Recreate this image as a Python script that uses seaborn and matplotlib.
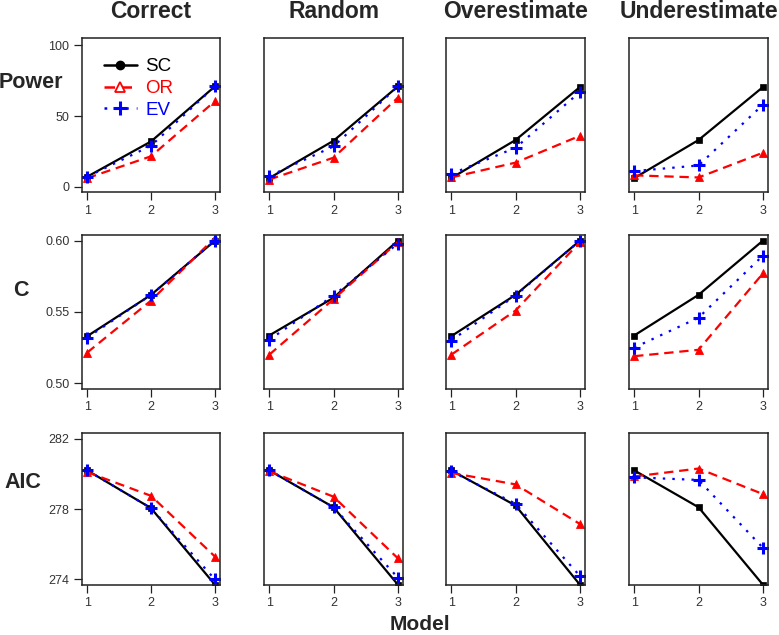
import matplotlib
matplotlib.use("Agg")
import matplotlib.pyplot as plt
from matplotlib.lines import Line2D
import seaborn as sns
import pandas as pd

sns.set_style("white")
plt.rcParams['font.family'] = ['Liberation Sans', 'DejaVu Sans']

models = [1, 2, 3]
scenarios = ["Correct", "Random", "Overestimate", "Underestimate"]
metrics = ["Power", "C", "AIC"]
methods = ["SC", "OR", "EV"]

# values per scenario (Correct, Random, Overestimate, Underestimate), per model 1..3
power_sc = [[7, 32, 71], [6, 32.5, 71], [6, 33, 70.5], [6, 33, 70.5]]
power_or = [[6, 21.5, 60.5], [5, 20.5, 63], [6.5, 17, 36], [8, 6.5, 24]]
power_ev = [[7, 29, 71], [7.5, 28.5, 71], [9, 27.5, 67], [11, 15, 58]]

c_sc = [[0.533, 0.562, 0.600], [0.5335, 0.560, 0.600], [0.533, 0.562, 0.600], [0.5335, 0.562, 0.600]]
c_or = [[0.5215, 0.558, 0.602], [0.520, 0.559, 0.599], [0.520, 0.551, 0.599], [0.519, 0.5235, 0.577]]
c_ev = [[0.532, 0.562, 0.600], [0.5305, 0.5615, 0.598], [0.530, 0.5615, 0.600], [0.525, 0.546, 0.5895]]

aic_sc = [[280.2, 278.05, 273.7], [280.2, 278.1, 273.7], [280.2, 278.2, 273.7], [280.2, 278.1, 273.7]]
aic_or = [[280.1, 278.75, 275.3], [280.15, 278.7, 275.2], [280.05, 279.4, 277.15], [279.85, 280.3, 278.85]]
aic_ev = [[280.2, 278.05, 274.0], [280.2, 278.1, 274.1], [280.15, 278.3, 274.2], [279.8, 279.65, 275.8]]

y_ticks = {"Power": [0, 50, 100], "C": [0.50, 0.55, 0.60], "AIC": [274, 278, 282]}
y_ticklabels = {"Power": ["0", "50", "100"], "C": ["0.50", "0.55", "0.60"], "AIC": ["274", "278", "282"]}
y_lims = {"Power": (-3.8, 105.3), "C": (0.496, 0.604), "AIC": (273.68, 282.32)}

data = {
    "Power": {"SC": power_sc, "OR": power_or, "EV": power_ev},
    "C": {"SC": c_sc, "OR": c_or, "EV": c_ev},
    "AIC": {"SC": aic_sc, "OR": aic_or, "EV": aic_ev},
}

RED = "#ff0000"
BLUE = "#0000ff"
styles = {
    "SC": dict(color="black", linestyle="-", marker="s", markersize=3.8,
               markeredgewidth=0.5, markeredgecolor="black", markerfacecolor="black"),
    "OR": dict(color=RED, linestyle=(0, (4.2, 2.6)), marker="^", markersize=6,
               markeredgewidth=0.6, markeredgecolor=RED, markerfacecolor=RED),
    "EV": dict(color=BLUE, linestyle=(0, (1.1, 3.2)), marker="+", markersize=8,
               markeredgewidth=2.2, markeredgecolor=BLUE),
}

W, H = 779, 635
fig = plt.figure(figsize=(W / 100, H / 100), dpi=100)

cols_px = [(82, 220), (264, 403), (446, 585), (629, 768)]
rows_px = [(38, 192), (235, 389), (433, 585)]

for i, metric in enumerate(metrics):
    t, b = rows_px[i]
    for j, scen in enumerate(scenarios):
        l, r = cols_px[j]
        ax = fig.add_axes([l / W, 1 - b / H, (r - l) / W, (b - t) / H])
        for m in methods:
            df = pd.DataFrame({"model": models, "value": data[metric][m][j]})
            sns.lineplot(data=df, x="model", y="value", ax=ax, linewidth=1.6,
                         clip_on=True, **styles[m])
        ax.set_xlim(0.92, 3.08)
        ax.set_ylim(*y_lims[metric])
        ax.set_xticks(models)
        ax.set_xticklabels([str(v) for v in models])
        ax.set_yticks(y_ticks[metric])
        ax.set_yticklabels(y_ticklabels[metric])
        ax.set_xlabel("")
        ax.set_ylabel("")
        for s in ax.spines.values():
            s.set_color("#222222")
            s.set_linewidth(1.1)
        ax.tick_params(axis="both", direction="out", length=5.5, width=0.9,
                       color="#222222", labelsize=9, labelcolor="#333333", pad=3.5)
        ax.tick_params(axis="x", bottom=True, top=False)
        ax.tick_params(axis="y", left=(j == 0), labelleft=(j == 0), right=False)
        if i == 0 and j == 0:
            handles = [
                Line2D([], [], color="black", linestyle="-", marker="o", markersize=6, linewidth=1.8),
                Line2D([], [], color=RED, linestyle=(0, (4.2, 2.6)), marker="^", markersize=7,
                       markerfacecolor="white", markeredgecolor=RED, markeredgewidth=1.3, linewidth=1.8),
                Line2D([], [], color=BLUE, linestyle=(0, (1.1, 3.2)), marker="+", markersize=10,
                       markeredgewidth=2.2, markeredgecolor=BLUE, linewidth=1.8),
            ]
            ax.legend(handles, methods, loc="upper left", frameon=False, fontsize=13.5,
                      labelcolor=["black", RED, BLUE], handlelength=1.75,
                      handletextpad=0.45, labelspacing=0.25, borderpad=0.0,
                      bbox_to_anchor=(0.09, 0.93))

# column titles
for j, scen in enumerate(scenarios):
    l, r = cols_px[j]
    fig.text((l + r) / 2 / W, 1 - 11 / H, scen, ha="center", va="center",
             fontsize=16.5, fontweight="bold")

# row labels
row_label_pos = {"Power": (31, 82), "C": (21, 290), "AIC": (23, 483)}
for metric in metrics:
    x, y = row_label_pos[metric]
    fig.text(x / W, 1 - y / H, metric, ha="center", va="center",
             fontsize=15.5, fontweight="bold")

fig.text(420 / W, 1 - 624 / H, "Model", ha="center", va="center",
         fontsize=15, fontweight="bold")

fig.savefig("out.png", dpi=100)
